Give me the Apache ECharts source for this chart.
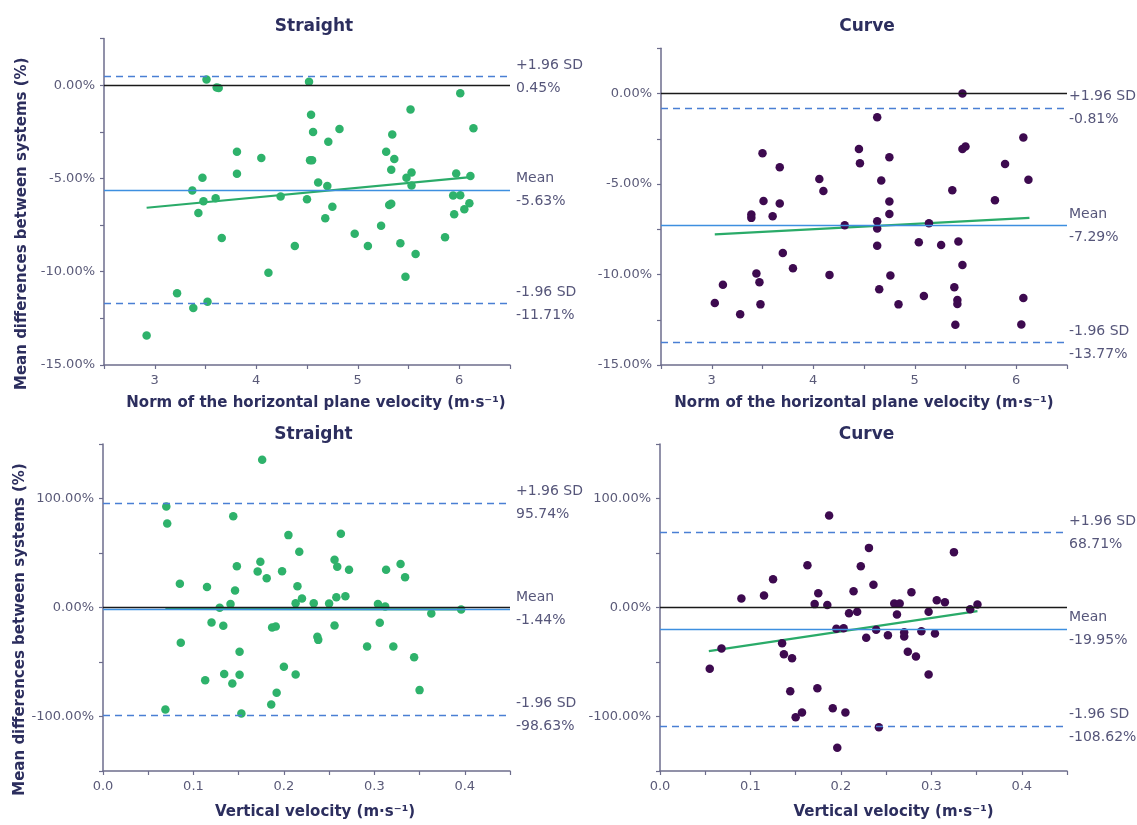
<!DOCTYPE html>
<html>
<head>
<meta charset="utf-8">
<script src="https://cdn.jsdelivr.net/npm/echarts@6/dist/echarts.min.js"></script>
<style>
html,body{margin:0;padding:0;background:#fff;}
#chart{width:1137px;height:825px;}
</style>
</head>
<body>
<div id="chart"></div>
<script>
// ---------- DATA ----------
const panelTitles = ['Straight', 'Curve', 'Straight', 'Curve'];
const limitNames = ['+1.96 SD', 'Mean', '-1.96 SD'];

const topStraightPoints = [[2.92,-13.42],[3.22,-11.15],[3.38,-11.95],[3.52,-11.61],[3.51,0.30],[3.61,-0.12],[3.63,-0.15],[3.37,-5.65],[3.47,-4.96],[3.48,-6.22],[3.43,-6.85],[3.60,-6.06],[3.66,-8.19],[3.81,-3.57],[3.81,-4.75],[4.05,-3.91],[4.12,-10.05],[4.24,-5.97],[4.38,-8.62],[4.50,-6.11],[4.52,0.18],[4.53,-4.03],[4.55,-4.03],[4.54,-1.59],[4.56,-2.51],[4.61,-5.22],[4.68,-7.13],[4.70,-5.41],[4.71,-3.03],[4.75,-6.52],[4.82,-2.35],[4.97,-7.96],[5.10,-8.62],[5.23,-7.54],[5.28,-3.57],[5.31,-6.42],[5.33,-6.36],[5.33,-4.53],[5.34,-2.65],[5.36,-3.96],[5.42,-8.48],[5.47,-10.27],[5.48,-4.96],[5.52,-1.31],[5.53,-4.68],[5.53,-5.38],[5.57,-9.05],[5.86,-8.15],[5.94,-5.91],[5.95,-6.92],[5.97,-4.73],[6.01,-5.90],[6.01,-0.43],[6.05,-6.65],[6.10,-6.33],[6.11,-4.87],[6.14,-2.31]];
const topCurvePoints = [[3.03,-11.57],[3.11,-10.56],[3.28,-12.19],[3.39,-6.69],[3.39,-6.87],[3.44,-9.94],[3.47,-10.43],[3.48,-11.65],[3.50,-3.30],[3.51,-5.94],[3.60,-6.78],[3.67,-4.07],[3.67,-6.07],[3.70,-8.81],[3.80,-9.65],[4.06,-4.72],[4.10,-5.39],[4.16,-10.02],[4.31,-7.28],[4.45,-3.07],[4.46,-3.85],[4.63,-1.31],[4.63,-7.06],[4.63,-7.46],[4.63,-8.41],[4.65,-10.81],[4.67,-4.81],[4.75,-3.52],[4.75,-5.96],[4.75,-6.65],[4.76,-10.06],[4.84,-11.65],[5.04,-8.22],[5.09,-11.19],[5.14,-7.17],[5.26,-8.37],[5.37,-5.35],[5.39,-10.70],[5.40,-12.78],[5.42,-11.41],[5.42,-11.63],[5.43,-8.17],[5.47,-9.48],[5.47,0.0],[5.47,-3.07],[5.50,-2.93],[5.79,-5.89],[5.89,-3.89],[6.05,-12.76],[6.07,-2.43],[6.07,-11.30],[6.12,-4.76]];
const bottomStraightPoints = [[0.069,-93.6],[0.070,92.7],[0.071,77.1],[0.085,21.7],[0.086,-32.4],[0.113,-66.7],[0.115,18.7],[0.120,-13.8],[0.129,-0.3],[0.133,-16.8],[0.134,-60.9],[0.141,3.1],[0.143,-69.7],[0.144,83.8],[0.146,15.6],[0.148,37.9],[0.151,-61.8],[0.151,-40.7],[0.153,-97.2],[0.171,33.0],[0.174,41.9],[0.176,135.5],[0.181,26.9],[0.186,-89.0],[0.187,-18.3],[0.191,-17.4],[0.192,-78.3],[0.198,33.3],[0.200,-54.4],[0.205,66.4],[0.213,-61.5],[0.213,4.0],[0.215,19.6],[0.217,51.1],[0.220,8.3],[0.233,4.0],[0.237,-26.9],[0.238,-29.7],[0.250,3.7],[0.256,43.7],[0.256,-16.5],[0.258,9.5],[0.259,37.3],[0.263,67.6],[0.268,10.4],[0.272,34.6],[0.292,-35.8],[0.304,3.1],[0.306,-14.1],[0.312,0.9],[0.313,34.6],[0.321,-35.8],[0.329,39.8],[0.334,27.8],[0.344,-45.6],[0.350,-75.8],[0.363,-5.5],[0.396,-1.8]];
const bottomCurvePoints = [[0.055,-56.3],[0.068,-37.6],[0.090,8.3],[0.115,11.0],[0.125,26.0],[0.135,-32.7],[0.137,-42.8],[0.144,-76.8],[0.146,-46.5],[0.150,-100.6],[0.157,-96.3],[0.163,38.8],[0.171,3.1],[0.174,-74.0],[0.175,13.1],[0.185,2.4],[0.187,84.4],[0.191,-92.4],[0.195,-19.6],[0.196,-128.7],[0.203,-19.0],[0.205,-96.3],[0.209,-5.2],[0.214,15.0],[0.218,-4.0],[0.222,37.9],[0.228,-27.8],[0.231,54.7],[0.236,20.8],[0.239,-20.5],[0.242,-109.8],[0.252,-25.4],[0.259,3.7],[0.262,-6.4],[0.265,3.7],[0.270,-22.6],[0.270,-26.6],[0.274,-40.7],[0.278,14.1],[0.283,-45.0],[0.289,-21.7],[0.297,-4.0],[0.297,-61.5],[0.304,-23.9],[0.306,6.7],[0.315,4.9],[0.325,50.8],[0.343,-1.5],[0.351,2.8]];

const topStraightTrend = [[2.92,-6.57],[6.11,-4.93]];
const topCurveTrend = [[3.03,-7.78],[6.13,-6.87]];
const bottomStraightTrend = [[0.069,-1.2],[0.396,-1.7]];
const bottomCurveTrend = [[0.054,-40.0],[0.351,-3.3]];

const topStraightLimits = [0.45, -5.63, -11.71];
const topCurveLimits = [-0.81, -7.29, -13.77];
const bottomStraightLimits = [95.74, -1.44, -98.63];
const bottomCurveLimits = [68.71, -19.95, -108.62];

// ---------- STYLE ----------
const FONT = 'DejaVu Sans';
const axisColor = '#6d6d8c';
const tickText = '#5a5a78';
const titleColor = '#2c2e5e';
const annotColor = '#56567a';
const green = '#2eb26b';
const purple = '#3d0a4f';

const grids = [
  {left:104, top:38.5, width:406, height:326.5},
  {left:661, top:48.3, width:406, height:316.7},
  {left:103, top:444, width:407, height:327},
  {left:660, top:444, width:407, height:327}
];

const panels = [
  {pts: topStraightPoints, trend: topStraightTrend, lim: topStraightLimits, color: green, shifts:[-5,-5,-5], labDist:6},
  {pts: topCurvePoints, trend: topCurveTrend, lim: topCurveLimits, color: purple, shifts:[11,12,12], labDist:2},
  {pts: bottomStraightPoints, trend: bottomStraightTrend, lim: bottomStraightLimits, color: green, shifts:[-4,-6,-3], labDist:6},
  {pts: bottomCurvePoints, trend: bottomCurveTrend, lim: bottomCurveLimits, color: purple, shifts:[11,-7,-9], labDist:2}
];

function pct(v){ return v.toFixed(2) + '%'; }

const xAxes = [], yAxes = [], series = [], titles = [];
const xNamePad = [[0,0,0,18],[0,0,0,0],[0,0,0,17],[0,0,0,60]];

panels.forEach((p, i) => {
  const top = i < 2;
  xAxes.push({
    type:'value', gridIndex:i,
    min: top ? 2.5 : 0, max: top ? 6.5 : 0.45, interval: top ? 0.5 : 0.05,
    name: top ? 'Norm of the horizontal plane velocity (m·s⁻¹)' : 'Vertical velocity (m·s⁻¹)',
    nameLocation:'middle', nameGap: top ? 31 : 34,
    nameTextStyle:{fontFamily:FONT, fontWeight:'bold', fontSize:15, color:titleColor, padding:xNamePad[i]},
    axisLine:{onZero:false, lineStyle:{color:axisColor, width:1.5}},
    axisTick:{length:4, lineStyle:{color:axisColor, width:1.2}},
    splitLine:{show:false},
    axisLabel:{
      fontFamily:FONT, fontSize:13, color:tickText, margin:9,
      formatter: v => {
        if (top) return Math.abs(v - Math.round(v)) < 1e-9 ? String(Math.round(v)) : '';
        const t = Math.round(v*100);
        return t % 10 === 0 ? (t/100).toFixed(1) : '';
      }
    }
  });
  yAxes.push({
    type:'value', gridIndex:i,
    min: top ? -15 : -150, max: top ? 2.5 : 150, interval: top ? 2.5 : 50,
    name: (i % 2 === 0) ? 'Mean differences between systems (%)' : '',
    nameLocation:'middle', nameRotate:90, nameGap:74,
    nameTextStyle:{fontFamily:FONT, fontWeight:'bold', fontSize:15, color:titleColor, padding:[0,44,0,0]},
    axisLine:{onZero:false, lineStyle:{color:axisColor, width:1.5}},
    axisTick:{length:4, lineStyle:{color:axisColor, width:1.2}},
    splitLine:{show:false},
    axisLabel:{
      fontFamily:FONT, fontSize:13, color:tickText, margin:9,
      formatter: v => {
        const step = top ? 5 : 100;
        const r = Math.round(v*100);
        if (r % (step*100) !== 0) return '';
        if (!top && Math.abs(v) >= 150) return '';
        return pct(v === 0 ? 0 : v);
      }
    }
  });
  titles.push({
    text: panelTitles[i],
    left: grids[i].left + grids[i].width/2 + (i%2===0 ? 2 : -2),
    top: top ? 13 : 421,
    textAlign:'center',
    textStyle:{fontFamily:FONT, fontWeight:'bold', fontSize:17, color:titleColor}
  });

  const mkLabel = (k) => {
    const s = p.shifts[k];
    return {
      show:true, position:'end', distance:p.labDist,
      formatter: limitNames[k] + '\n' + pct(p.lim[k]),
      fontFamily:FONT, fontSize:14, color:annotColor, lineHeight:23, align:'left',
      padding: s >= 0 ? [2*s,0,0,0] : [0,0,-2*s,0]
    };
  };
  // reference lines
  series.push({
    type:'line', xAxisIndex:i, yAxisIndex:i, data:[], z:1, silent:true,
    markLine:{
      silent:true, symbol:['none','none'], animation:false,
      data:[
        {yAxis:0, label:{show:false}, lineStyle:{color:'#1a1a1a', width:1.4, type:'solid'}},
        {yAxis:p.lim[0], label:mkLabel(0), lineStyle:{color:'#4a7fd4', width:1.4, type:[7,5]}},
        {yAxis:p.lim[1], label:mkLabel(1), lineStyle:{color:'#3d8fe0', width:1.4, type:'solid'}},
        {yAxis:p.lim[2], label:mkLabel(2), lineStyle:{color:'#4a7fd4', width:1.4, type:[7,5]}}
      ]
    }
  });
  // trend line
  series.push({
    type:'line', xAxisIndex:i, yAxisIndex:i, data:p.trend, z: i===2 ? 0 : 2,
    showSymbol:false, symbol:'none', silent:true, animation:false,
    lineStyle:{color:'#2aab69', width:2.2}
  });
  // points
  series.push({
    type:'scatter', xAxisIndex:i, yAxisIndex:i, data:p.pts, z:3,
    symbolSize:8.5, animation:false,
    itemStyle:{color:p.color, opacity:1}
  });
});

const chart = echarts.init(document.getElementById('chart'), null, {renderer:'canvas'});
chart.setOption({
  backgroundColor:'#ffffff',
  animation:false,
  title: titles,
  grid: grids,
  xAxis: xAxes,
  yAxis: yAxes,
  series: series
});
</script>
</body>
</html>
